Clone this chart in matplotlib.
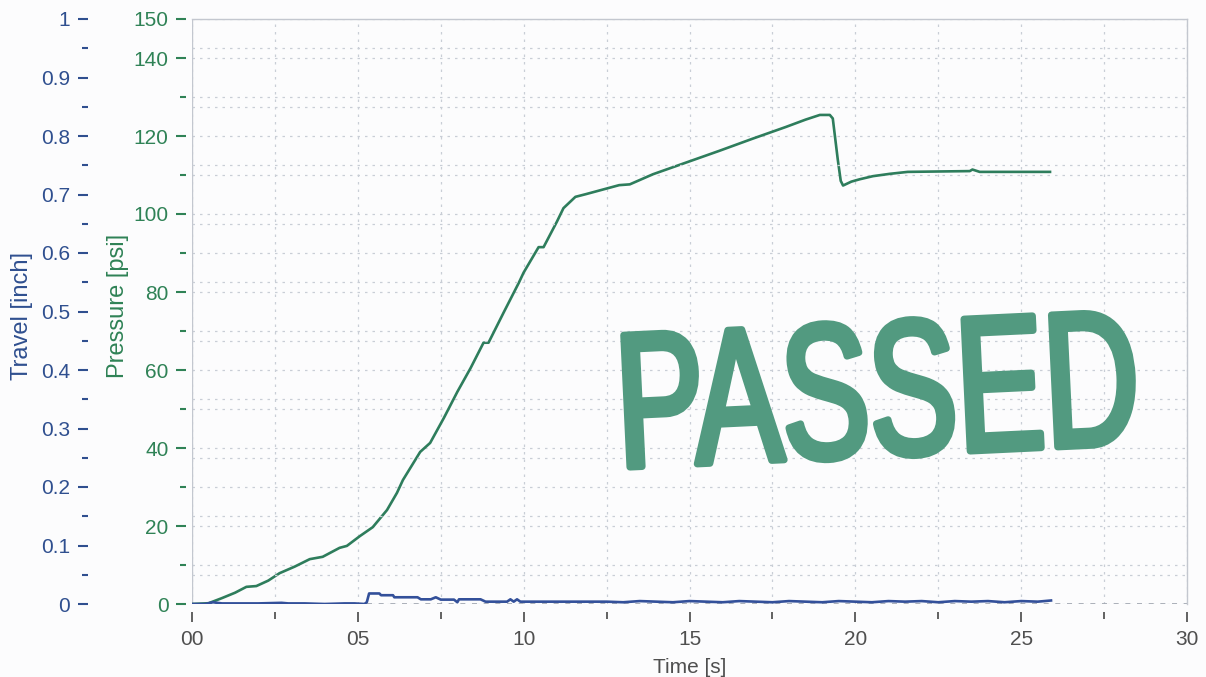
import matplotlib
matplotlib.use("Agg")
import matplotlib.pyplot as plt
from matplotlib.ticker import MultipleLocator, FuncFormatter, FixedLocator
from matplotlib.textpath import TextPath
from matplotlib.patches import PathPatch
from matplotlib.font_manager import FontProperties
from matplotlib.transforms import Affine2D

plt.rcParams['font.family'] = ['Liberation Sans', 'DejaVu Sans']

# ---- data ----
time_p = [0, 0.5, 0.9, 1.3, 1.64, 1.94, 2.3, 2.64, 3.1, 3.55, 3.94, 4.45, 4.67,
          5.06, 5.45, 5.88, 6.18, 6.36, 6.88, 7.18, 7.6, 8.0, 8.4, 8.79, 8.94,
          9.4, 9.85, 10.0, 10.45, 10.6, 11.0, 11.2, 11.56, 11.88, 12.88, 13.2,
          13.9, 14.9, 15.9, 16.9, 17.9, 18.5, 18.93, 19.23, 19.32, 19.47, 19.56,
          19.63, 19.88, 20.13, 20.53, 21.04, 21.58, 22.5, 23.45, 23.53, 23.75,
          24.8, 25.87]
pressure = [0, 0.2, 1.5, 2.9, 4.4, 4.6, 6.0, 7.9, 9.6, 11.5, 12.1, 14.4, 14.9,
            17.4, 19.7, 24.1, 28.5, 31.8, 39.0, 41.3, 47.8, 54.4, 60.5, 67.0, 67.0,
            74.8, 82.3, 85.0, 91.5, 91.5, 98.0, 101.5, 104.4, 105.1, 107.4, 107.6,
            110.2, 113.2, 116.2, 119.3, 122.3, 124.2, 125.4, 125.4, 124.5, 114.0, 108.5,
            107.3, 108.3, 108.9, 109.7, 110.3, 110.8, 110.9, 111.0, 111.4, 110.8,
            110.8, 110.8]

time_t = [0, 0.4, 0.63, 0.9, 1.5, 2.0, 2.7, 2.9, 3.4, 4.0, 4.6, 4.9, 5.2, 5.27,
          5.34, 5.65, 5.7, 6.06, 6.1, 6.8, 6.9, 7.2, 7.35, 7.5, 7.9, 8.0, 8.05,
          8.7, 8.85, 9.5, 9.6, 9.7, 9.8, 9.9, 10.5, 11.0, 11.5, 12.0, 12.5, 13.0,
          13.5, 14.0, 14.5, 15.0, 15.5, 16.0, 16.5, 17.0, 17.5, 18.0, 18.5, 19.0,
          19.5, 20.0, 20.5, 21.0, 21.5, 22.0, 22.5, 23.0, 23.5, 24.0, 24.5, 25.0,
          25.5, 25.9]
travel = [0, 0, 0.003, 0.001, 0.001, 0.001, 0.002, 0.001, 0.001, 0, 0.001, 0.001,
          0, 0.003, 0.018, 0.018, 0.015, 0.015, 0.0115, 0.0115, 0.008, 0.008,
          0.0115, 0.0075, 0.0075, 0.003, 0.008, 0.008, 0.004, 0.004, 0.008, 0.004,
          0.008, 0.004, 0.004, 0.004, 0.004, 0.004, 0.004, 0.003, 0.005, 0.004,
          0.003, 0.005, 0.004, 0.003, 0.005, 0.004, 0.003, 0.005, 0.004, 0.003,
          0.005, 0.004, 0.003, 0.005, 0.004, 0.005, 0.003, 0.005, 0.004, 0.005,
          0.003, 0.005, 0.004, 0.006]

x_ticks = [0, 5, 10, 15, 20, 25, 30]
p_major = [0, 20, 40, 60, 80, 100, 120, 140, 150]
t_major = [0, 0.1, 0.2, 0.3, 0.4, 0.5, 0.6, 0.7, 0.8, 0.9, 1.0]
stamp_text = "PASSED"

GREEN = '#2e7d5c'
GREEN_TXT = '#2f8256'
BLUE = '#33509a'
BLUE_TXT = '#2f4f8f'
GRID = '#c9ced6'
GREYTXT = '#4f4f4f'
STAMP = '#529a80'

W, H = 1206, 677
fig = plt.figure(figsize=(W / 100, H / 100), dpi=100, facecolor='#fcfcfd')
ax = fig.add_axes([192 / W, 1 - 604 / H, (1187 - 192) / W, (604 - 19) / H])
ax.set_facecolor('none')

# pressure axis (main)
ax.set_xlim(0, 30)
ax.set_ylim(0, 150)
ax.plot(time_p, pressure, color=GREEN, lw=1.9, zorder=5, solid_joinstyle='round')

ax.yaxis.set_major_locator(FixedLocator(p_major))
ax.yaxis.set_minor_locator(MultipleLocator(10))
ax.xaxis.set_major_locator(FixedLocator(x_ticks))
ax.xaxis.set_minor_locator(MultipleLocator(2.5))
ax.xaxis.set_major_formatter(FuncFormatter(lambda v, pos: f"{int(v):02d}"))

for s in ['top', 'right']:
    ax.spines[s].set_color('#c3c7cf')
    ax.spines[s].set_linewidth(1.0)
ax.spines['left'].set_position(('outward', 4))
ax.spines['left'].set_visible(False)
ax.spines['bottom'].set_position(('outward', 6))
ax.spines['bottom'].set_visible(False)
ax.axvline(0, color='#c3c7cf', lw=1.0, zorder=1)
ax.axhline(0, color='#9ea4ae', lw=1.2, ls=(0, (3, 4)), zorder=1)

ax.tick_params(axis='y', which='major', direction='out', length=7, width=1.5,
               colors=GREEN_TXT, labelsize=15, pad=6)
ax.tick_params(axis='y', which='minor', direction='out', length=4, width=1.5,
               colors=GREEN_TXT)
ax.tick_params(axis='x', which='major', direction='out', length=7, width=1.3,
               colors='#555555', labelsize=15, pad=6)
ax.tick_params(axis='x', which='minor', direction='out', length=5, width=1.3,
               colors='#555555')
ax.tick_params(axis='x', labelcolor=GREYTXT)

ax.grid(True, which='both', axis='x', color=GRID, lw=0.9, ls=(0, (2, 4)))
ax.grid(True, which='both', axis='y', color=GRID, lw=0.9, ls=(0, (2, 4)))
ax.set_axisbelow(True)

ax.set_xlabel("Time [s]", fontsize=15, color=GREYTXT, labelpad=6)

# travel axis
axT = ax.twinx()
axT.set_ylim(0, 1)
axT.yaxis.tick_left()
axT.yaxis.set_label_position('left')
for s in ['top', 'right', 'bottom', 'left']:
    axT.spines[s].set_visible(False)
axT.spines['left'].set_position(('outward', 75))
axT.yaxis.set_major_locator(FixedLocator(t_major))
axT.yaxis.set_minor_locator(MultipleLocator(0.05))
axT.yaxis.set_major_formatter(FuncFormatter(lambda v, pos: f"{v:g}"))
axT.tick_params(axis='y', which='major', direction='out', length=7, width=1.5,
                colors=BLUE_TXT, labelsize=15, pad=6)
axT.tick_params(axis='y', which='minor', direction='out', length=4, width=1.5,
                colors=BLUE_TXT)
axT.grid(True, which='minor', axis='y', color=GRID, lw=0.9, ls=(0, (2, 4)))
axT.plot(time_t, travel, color=BLUE, lw=1.9, zorder=6)

# axis titles
fig.text(22 / W, 1 - 316 / H, "Travel [inch]", rotation=90, ha='center',
         va='center', fontsize=17, color=BLUE_TXT)
fig.text(118 / W, 1 - 306 / H, "Pressure [psi]", rotation=90, ha='center',
         va='center', fontsize=17, color=GREEN_TXT)

# stamp
ov = fig.add_axes([0, 0, 1, 1], zorder=10)
ov.set_xlim(0, W)
ov.set_ylim(0, H)
ov.axis('off')
ov.patch.set_alpha(0)
tp = TextPath((0, 0), stamp_text, size=100,
              prop=FontProperties(family='Liberation Sans', weight='normal'))
ext = tp.get_extents()
tw, th = 506.0, 136.0
tr = (Affine2D().translate(-ext.x0, -ext.y0)
      .scale(tw / ext.width, th / ext.height)
      .rotate_deg(2.7)
      .translate(630, H - 469))
path = tr.transform_path(tp)
ov.add_patch(PathPatch(path, facecolor=STAMP, edgecolor=STAMP, lw=5.0,
                       joinstyle='round'))

fig.savefig("out.png", dpi=100, facecolor=fig.get_facecolor())
